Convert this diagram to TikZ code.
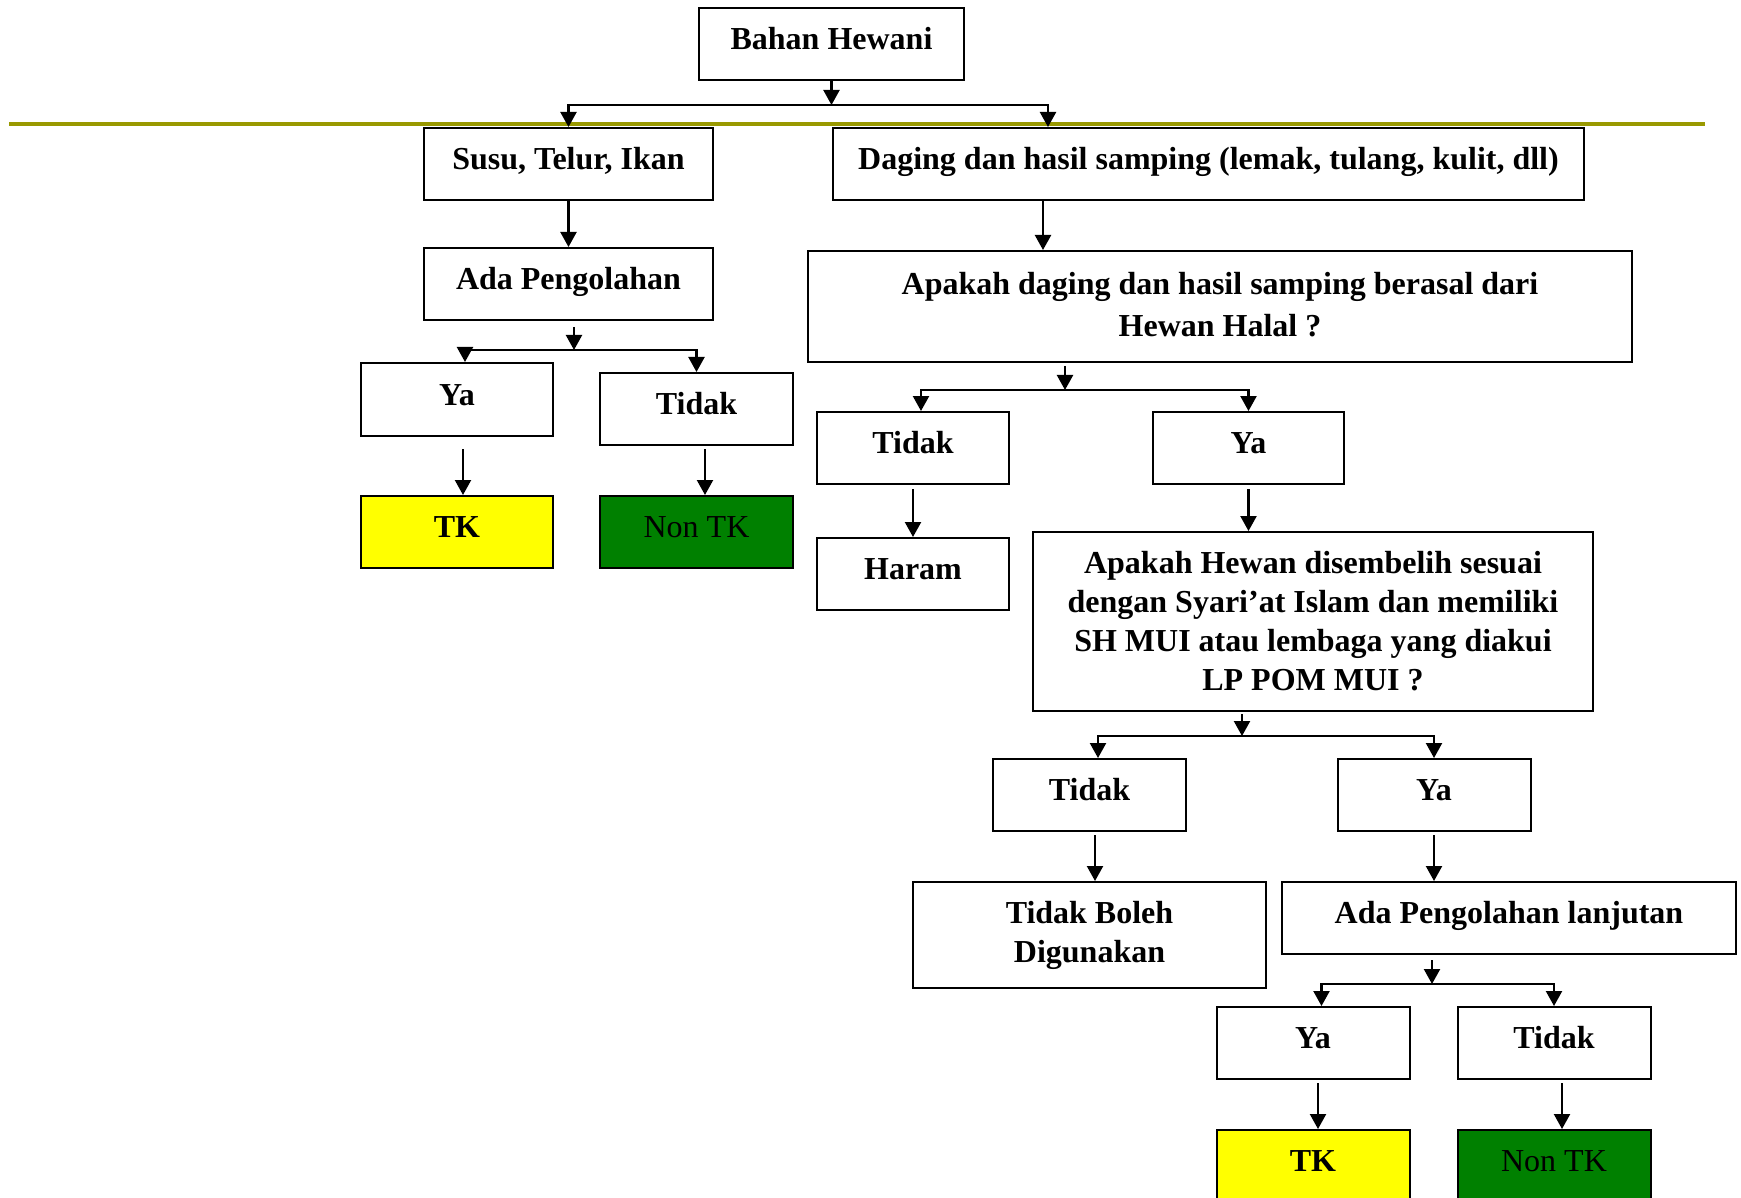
\documentclass[tikz,border=0pt]{standalone}
\usepackage{fontspec}
\setmainfont{Liberation Serif}
\usetikzlibrary{arrows.meta}
\definecolor{tkyellow}{HTML}{FFFF00}
\definecolor{tkgreen}{HTML}{008000}
\definecolor{rule}{HTML}{999900}
\begin{document}
\begin{tikzpicture}[x=0.5pt,y=-0.5pt,
  lbl/.style={font=\fontsize{16pt}{19.5pt}\selectfont\bfseries},
  box/.style={draw, line width=1pt, inner sep=0pt, lbl, text height=11pt, text depth=5.5pt},
  mbox/.style={draw, line width=1pt, inner sep=0pt, lbl, align=center},
  arr/.style={line width=1.1pt, -{Triangle[length=7.5pt,width=8pt]}},
  yes/.style={box, fill=tkyellow},
  no/.style={box, fill=tkgreen, font=\fontsize{16pt}{19.5pt}\selectfont\mdseries}]
\fill[white] (0,0) rectangle (1741,1198);
\useasboundingbox (0,0) rectangle (1741,1198);

% horizontal rule under the title
\draw[rule, line width=1.75pt] (9,124) -- (1705,124);

% boxes
\node[box, minimum width=132.5pt, minimum height=36pt] (bahan) at (831.5,44) {Bahan Hewani};
\node[box, minimum width=144.5pt, minimum height=36pt] (susu) at (568.5,164) {Susu, Telur, Ikan};
\node[box, minimum width=375.5pt, minimum height=36pt] (daging) at (1208.5,164) {Daging dan hasil samping (lemak, tulang, kulit, dll)};
\node[box, minimum width=144.5pt, minimum height=36pt] (adap) at (568.5,284) {Ada Pengolahan};
\node[box, minimum width=96pt, minimum height=36.5pt] (ya1) at (457,399.5) {Ya};
\node[box, minimum width=96.5pt, minimum height=36pt] (tidak1) at (696.5,409) {Tidak};
\node[yes, minimum width=96pt, minimum height=36pt] (tk1) at (457,532) {TK};
\node[no, minimum width=96.5pt, minimum height=36pt] (nontk1) at (696.5,532) {Non TK};

\node[mbox, minimum width=412pt, minimum height=55.5pt, font=\fontsize{16pt}{21pt}\selectfont\bfseries] (apakah1) at (1220,306.5)
  {Apakah daging dan hasil samping berasal dari\\Hewan Halal ?\rule[-2.5pt]{0pt}{0pt}};
\node[box, minimum width=96pt, minimum height=36pt] (tidak2) at (913,448) {Tidak};
\node[box, minimum width=95.5pt, minimum height=36pt] (ya2) at (1248.5,448) {Ya};
\node[box, minimum width=96pt, minimum height=36pt] (haram) at (913,574) {Haram};
\node[mbox, minimum width=280pt, minimum height=89.5pt] (apakah2) at (1313,621.5)
  {Apakah Hewan disembelih sesuai\\dengan Syari’at Islam dan memiliki\\SH MUI atau lembaga yang diakui\\LP POM MUI ?};
\node[box, minimum width=96.5pt, minimum height=36pt] (tidak3) at (1089.5,795) {Tidak};
\node[box, minimum width=96.5pt, minimum height=36pt] (ya3) at (1434,795) {Ya};
\node[mbox, minimum width=176.5pt, minimum height=53pt] (boleh) at (1089.5,935) {Tidak Boleh\\Digunakan};
\node[box, minimum width=227pt, minimum height=36pt] (lanjut) at (1509,918) {Ada Pengolahan lanjutan};
\node[box, minimum width=96.5pt, minimum height=36pt] (ya4) at (1313,1043) {Ya};
\node[box, minimum width=96.5pt, minimum height=36pt] (tidak4) at (1554,1043) {Tidak};
\node[yes, minimum width=96.5pt, minimum height=36pt] (tk2) at (1313,1166) {TK};
\node[no, minimum width=96.5pt, minimum height=36pt] (nontk2) at (1554,1166) {Non TK};

% junction points and connector ends
\coordinate (j1) at ([yshift=-12pt]bahan.south);
\coordinate (dgin) at ([xshift=-80.25pt]daging.north);
\coordinate (dgout) at ([xshift=-82.75pt]daging.south);
\coordinate (adout) at ([shift={(2.75pt,-3pt)}]adap.south);
\coordinate (j2) at ([shift={(2.75pt,-14.5pt)}]adap.south);
\coordinate (ya1out) at ([shift={(3pt,-6pt)}]ya1.south);
\coordinate (ti1out) at ([shift={(4.25pt,-1.5pt)}]tidak1.south);
\coordinate (ap1out) at ([shift={(-77.5pt,-1.5pt)}]apakah1.south);
\coordinate (j3) at ([shift={(-77.5pt,-13.5pt)}]apakah1.south);
\coordinate (ti2out) at ([yshift=-2pt]tidak2.south);
\coordinate (ya2out) at ([yshift=-2pt]ya2.south);
\coordinate (ap2out) at ([shift={(-35.5pt,-1pt)}]apakah2.south);
\coordinate (j4) at ([shift={(-35.5pt,-12pt)}]apakah2.south);
\coordinate (ti3out) at ([shift={(2.75pt,-1.5pt)}]tidak3.south);
\coordinate (ya3out) at ([yshift=-1.5pt]ya3.south);
\coordinate (lanout) at ([shift={(-38.5pt,-2.5pt)}]lanjut.south);
\coordinate (j5) at ([shift={(-38.5pt,-14.5pt)}]lanjut.south);
\coordinate (ya4out) at ([shift={(2.5pt,-1.5pt)}]ya4.south);
\coordinate (ti4out) at ([shift={(4pt,-1.5pt)}]tidak4.south);

% connectors
\draw[arr] (bahan.south) -- (j1);
\draw[arr] (j1) -| (susu.north);
\draw[arr] (j1) -| (dgin);
\draw[arr] (susu.south) -- (adap.north);
\draw[arr] (dgout) -- (dgout |- apakah1.north);

\draw[arr] (adout) -- (j2);
\draw[arr] (j2) -| ([xshift=4pt]ya1.north);
\draw[arr] (j2) -| (tidak1.north);
\draw[arr] (ya1out) -- (ya1out |- tk1.north);
\draw[arr] (ti1out) -- (ti1out |- nontk1.north);

\draw[arr] (ap1out) -- (j3);
\draw[arr] (j3) -| ([xshift=4pt]tidak2.north);
\draw[arr] (j3) -| (ya2.north);
\draw[arr] (ti2out) -- (haram.north);
\draw[arr] (ya2out) -- (ya2out |- apakah2.north);

\draw[arr] (ap2out) -- (j4);
\draw[arr] (j4) -| ([xshift=4.25pt]tidak3.north);
\draw[arr] (j4) -| (ya3.north);
\draw[arr] (ti3out) -- (ti3out |- boleh.north);
\draw[arr] (ya3out) -- (ya3out |- lanjut.north);

\draw[arr] (lanout) -- (j5);
\draw[arr] (j5) -| ([xshift=4.25pt]ya4.north);
\draw[arr] (j5) -| (tidak4.north);
\draw[arr] (ya4out) -- (ya4out |- tk2.north);
\draw[arr] (ti4out) -- (ti4out |- nontk2.north);
\end{tikzpicture}
\end{document}
